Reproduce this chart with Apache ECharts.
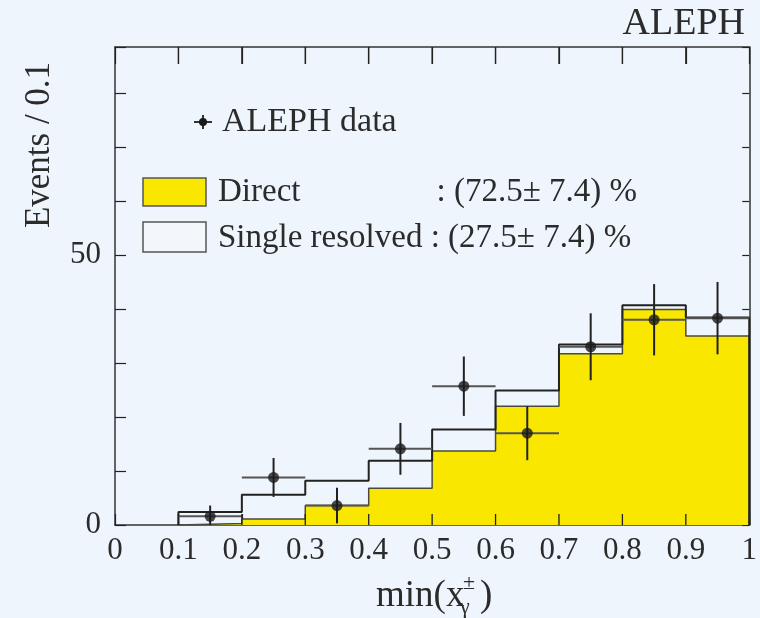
<!DOCTYPE html>
<html>
<head>
<meta charset="utf-8">
<script src="https://cdn.jsdelivr.net/npm/echarts@6/dist/echarts.min.js"></script>
<style>
  html, body { margin: 0; padding: 0; background: #eef5fc; }
  #chart { width: 760px; height: 618px; }
</style>
</head>
<body>
<div id="chart"></div>
<script>
// ---- data ----
var binEdges = [0.1, 0.2, 0.3, 0.4, 0.5, 0.6, 0.7, 0.8, 0.9, 1.0];
var binCenters = [0.15, 0.25, 0.35, 0.45, 0.55, 0.65, 0.75, 0.85, 0.95];
var directValues = [0.3, 1.1, 3.6, 6.8, 13.7, 22.0, 31.7, 39.9, 35.0];
var totalValues  = [2.4, 5.6, 8.2, 11.9, 17.7, 24.9, 33.4, 40.7, 38.4];
var dataValues   = [1.6, 8.8, 3.6, 14.1, 25.7, 17.0, 33.0, 38.0, 38.3];
var dataErrors   = [2.0, 3.6, 3.3, 4.8, 5.5, 5.0, 6.2, 6.6, 6.7];
var xTickValues  = [0.1, 0.2, 0.3, 0.4, 0.5, 0.6, 0.7, 0.8, 0.9];
var yTickLabels = { 0: '0', 50: '50' };

var Y_MAX = 88.5;

function stepData(vals) {
  var d = [[binEdges[0], 0]];
  for (var i = 0; i < vals.length; i++) d.push([binEdges[i], vals[i]]);
  d.push([binEdges[binEdges.length - 1], vals[vals.length - 1]]);
  d.push([binEdges[binEdges.length - 1], 0]);
  return d;
}
var errData = binCenters.map(function (c, i) { return [c, dataValues[i], dataErrors[i]]; });
var ptData = binCenters.map(function (c, i) { return [c, dataValues[i]]; });
var tickData = xTickValues.map(function (v) { return [v, 0]; });

var FONT = 'Liberation Serif';
var TXT = '#2b2b2b';

var chart = echarts.init(document.getElementById('chart'));
chart.setOption({
  backgroundColor: '#eef5fc',
  animation: false,
  grid: { left: 115, right: 8, top: 47, bottom: 93 },
  xAxis: [{
    type: 'value', min: 0, max: 1, interval: 0.1, position: 'bottom',
    axisLine: { show: true, onZero: false, lineStyle: { color: '#333', width: 1.5 } },
    axisTick: { show: true, inside: true, length: 11, lineStyle: { color: '#222', width: 1.2 } },
    axisLabel: { fontSize: 31, fontFamily: FONT, color: TXT, margin: 10 },
    splitLine: { show: false }
  }, {
    type: 'value', min: 0, max: 1, interval: 0.1, position: 'top',
    axisLine: { show: true, onZero: false, lineStyle: { color: '#333', width: 1.5 } },
    axisTick: { show: true, inside: true, length: 17, lineStyle: { color: '#222', width: 1.2 } },
    axisLabel: { show: false }, splitLine: { show: false }
  }],
  yAxis: [{
    type: 'value', min: 0, max: Y_MAX, interval: 10, position: 'left',
    axisLine: { show: true, onZero: false, lineStyle: { color: '#333', width: 1.5 } },
    axisTick: { show: true, inside: true, length: 11, lineStyle: { color: '#222', width: 1.2 } },
    axisLabel: { margin: 14, fontFamily: FONT, fontSize: 31, color: TXT,
      formatter: function (v) { return yTickLabels[v] !== undefined ? yTickLabels[v] : ''; } },
    splitLine: { show: false }
  }, {
    type: 'value', min: 0, max: Y_MAX, interval: 10, position: 'right',
    axisLine: { show: true, onZero: false, lineStyle: { color: '#333', width: 1.5 } },
    axisTick: { show: true, inside: true, length: 7, lineStyle: { color: '#222', width: 1.2 } },
    axisLabel: { show: false }, splitLine: { show: false }
  }],
  series: [{
    type: 'line', step: 'end',
    data: stepData(directValues), symbol: 'none',
    lineStyle: { color: '#4a4a3a', width: 1.5 },
    areaStyle: { color: '#f9e700', opacity: 1 }, z: 2
  }, {
    type: 'line', step: 'end',
    data: stepData(totalValues), symbol: 'none',
    lineStyle: { color: '#222', width: 2 }, z: 3
  }, {
    type: 'custom', z: 4,
    data: errData,
    renderItem: function (params, api) {
      var x = api.value(0), y = api.value(1), e = api.value(2);
      var lo = api.coord([x, Math.max(0, y - e)]);
      var hi = api.coord([x, y + e]);
      var l = api.coord([x - 0.05, y]);
      var r = api.coord([x + 0.05, y]);
      return { type: 'group', children: [
        { type: 'line', shape: { x1: l[0], y1: l[1], x2: r[0], y2: r[1] },
          style: { stroke: '#555', lineWidth: 2 } },
        { type: 'line', shape: { x1: lo[0], y1: lo[1], x2: hi[0], y2: hi[1] },
          style: { stroke: '#222', lineWidth: 2 } }
      ] };
    }
  }, {
    type: 'scatter', z: 5,
    data: ptData, symbol: 'circle', symbolSize: 11,
    itemStyle: { color: '#1a1a1a' }
  }, {
    // inward x-axis tick marks (top and bottom), placed through the axis scale
    type: 'custom', z: 6, silent: true, clip: false,
    data: tickData,
    renderItem: function (params, api) {
      var v = api.value(0);
      var b = api.coord([v, 0]);
      var t = api.coord([v, Y_MAX]);
      return { type: 'group', children: [
        { type: 'line', shape: { x1: b[0], y1: b[1], x2: b[0], y2: b[1] - 11 },
          style: { stroke: '#222', lineWidth: 1.3 } },
        { type: 'line', shape: { x1: t[0], y1: t[1], x2: t[0], y2: t[1] + 17 },
          style: { stroke: '#222', lineWidth: 1.3 } }
      ] };
    }
  }],
  graphic: [
    { type: 'text', x: 745, y: 24, style: { text: 'ALEPH', font: '38px "Liberation Serif"', fill: TXT, align: 'right', verticalAlign: 'middle' } },
    { type: 'text', x: 40, y: 145, rotation: Math.PI / 2,
      style: { text: 'Events / 0.1', font: '35px "Liberation Serif"', fill: TXT, align: 'center', verticalAlign: 'middle' } },
    { type: 'text', x: 376, y: 596,
      style: { text: 'min(x', font: '37px "Liberation Serif"', fill: TXT, align: 'left', verticalAlign: 'middle' } },
    { type: 'text', x: 460, y: 607,
      style: { text: 'γ', font: '22px "Liberation Serif"', fill: TXT, align: 'left', verticalAlign: 'middle' } },
    { type: 'text', x: 463, y: 583,
      style: { text: '±', font: '22px "Liberation Serif"', fill: TXT, align: 'left', verticalAlign: 'middle' } },
    { type: 'text', x: 480, y: 596,
      style: { text: ')', font: '37px "Liberation Serif"', fill: TXT, align: 'left', verticalAlign: 'middle' } },
    { type: 'line', shape: { x1: 194, y1: 122, x2: 212, y2: 122 }, style: { stroke: '#333', lineWidth: 2 } },
    { type: 'line', shape: { x1: 203, y1: 115, x2: 203, y2: 129 }, style: { stroke: '#333', lineWidth: 2 } },
    { type: 'circle', shape: { cx: 203, cy: 122, r: 4 }, style: { fill: '#1a1a1a' } },
    { type: 'text', x: 222, y: 122, style: { text: 'ALEPH data', font: '34px "Liberation Serif"', fill: TXT, verticalAlign: 'middle' } },
    { type: 'rect', shape: { x: 143, y: 178, width: 63, height: 28 }, style: { fill: '#f9e700', stroke: '#555', lineWidth: 1.5 } },
    { type: 'text', x: 218, y: 192, style: { text: 'Direct', font: '33px "Liberation Serif"', fill: TXT, verticalAlign: 'middle' } },
    { type: 'text', x: 637, y: 192, style: { text: ': (72.5\u00b1 7.4) %', font: '33px "Liberation Serif"', fill: TXT, align: 'right', verticalAlign: 'middle' } },
    { type: 'rect', shape: { x: 143, y: 222, width: 63, height: 30 }, style: { fill: '#f3f7fb', stroke: '#555', lineWidth: 1.5 } },
    { type: 'text', x: 218, y: 238, style: { text: 'Single resolved : (27.5\u00b1 7.4) %', font: '33px "Liberation Serif"', fill: TXT, align: 'left', verticalAlign: 'middle' } }
  ]
});
</script>
</body>
</html>
